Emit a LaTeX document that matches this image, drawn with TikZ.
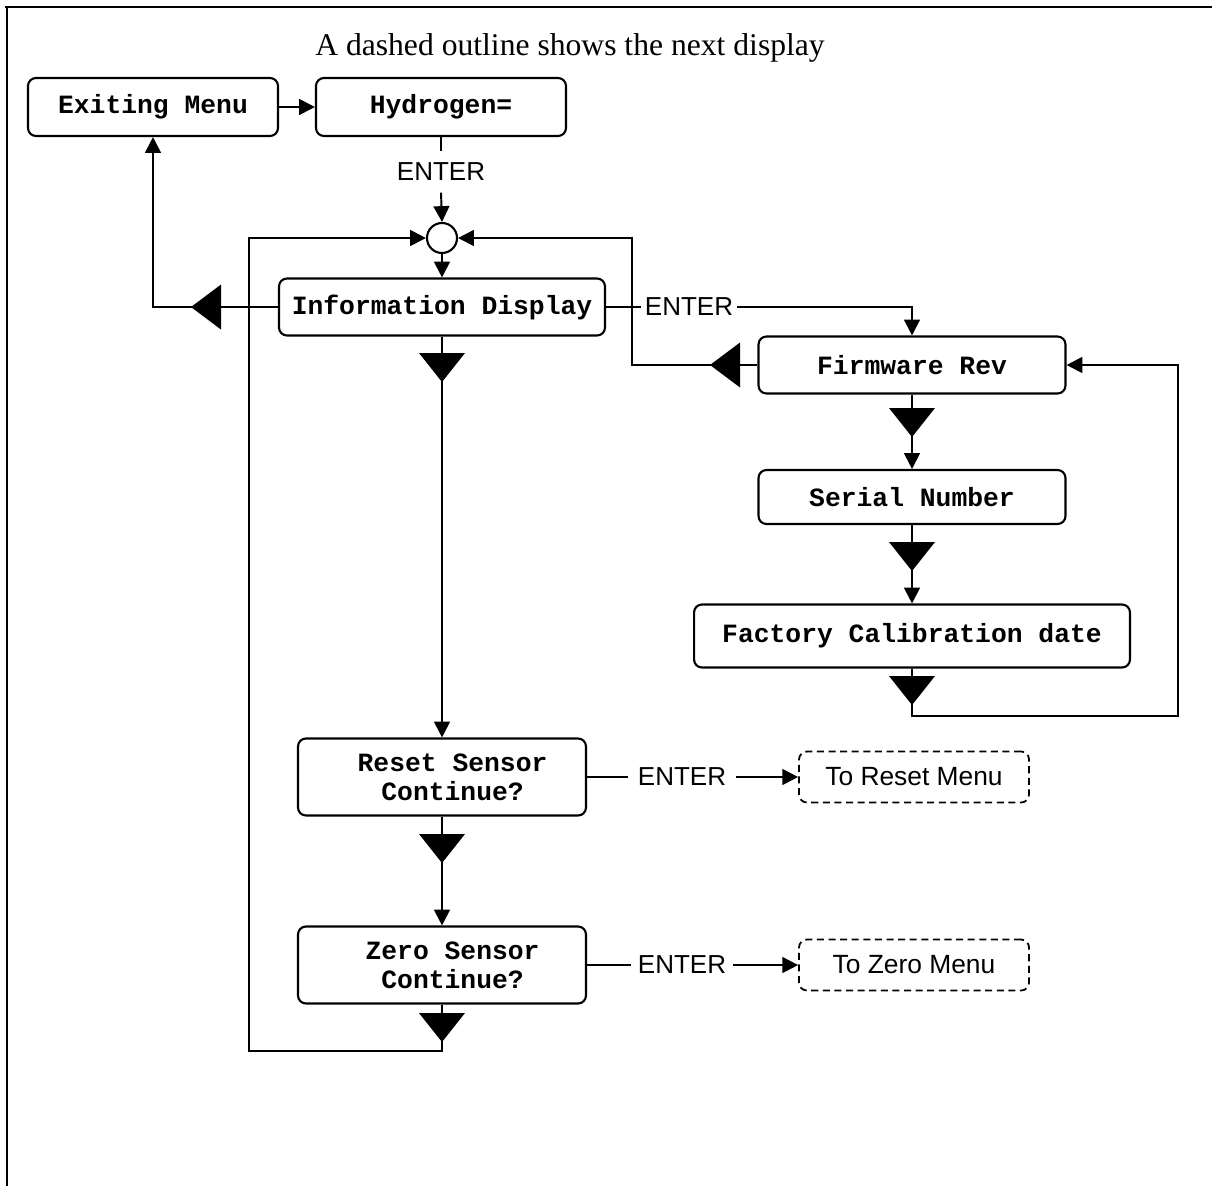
\documentclass[tikz,border=0pt]{standalone}
\usepackage{fontspec}
\setmainfont{Liberation Serif}
\setsansfont{Liberation Sans}
\setmonofont{Liberation Mono}
\usetikzlibrary{arrows.meta}
\definecolor{MenuInk}{HTML}{000000}
\newcommand{\TriDown}[1]{\fill[MenuInk] (#1) ++(-23,0) -- ++(46,0) -- ++(-23,29) -- cycle;}
\newcommand{\TriLeft}[1]{\fill[MenuInk] (#1) ++(0,-22.5) -- ++(0,45) -- ++(-30,-22.5) -- cycle;}
\tikzset{
  menubox/.style={draw=MenuInk,line width=1.2pt,rounded corners=4.5pt,align=center,
    inner sep=0pt,font=\fontsize{15}{16.5}\selectfont\ttfamily\bfseries},
  nextbox/.style={draw=MenuInk,line width=1pt,dash pattern=on 4pt off 2.6pt,rounded corners=4.5pt,
    minimum width=4.6cm,minimum height=1.02cm,font=\fontsize{15}{18}\selectfont\sffamily},
  keylbl/.style={inner sep=3pt,font=\fontsize{14.8}{18}\selectfont\sffamily},
  flow/.style={draw=MenuInk,line width=1.1pt},
  flowto/.style={flow,-{Triangle[length=9pt,width=9pt]}}
}
\begin{document}
\begin{tikzpicture}[x=0.02cm,y=-0.02cm]
  \useasboundingbox (0,0) rectangle (1212,1186);
  % page frame
  \draw[line width=1.6pt] (5,7) -- (1212,7);
  \draw[line width=1.2pt] (7,7) -- (7,1186);
  \node[font=\fontsize{18}{22}\selectfont] (title) at (570,48) {A dashed outline shows the next display};

  % displays
  \node[menubox,minimum width=5cm,minimum height=1.16cm] (exit) at (153,107) {Exiting Menu};
  \node[menubox,minimum width=5cm,minimum height=1.16cm] (hydro) at (441,107) {Hydrogen=};
  \node[draw=MenuInk,line width=1.2pt,circle,minimum size=0.6cm,inner sep=0pt] (junction) at (442,238) {};
  \node[menubox,minimum width=6.52cm,minimum height=1.14cm] (info) at (442,307) {Information Display};
  \node[menubox,minimum width=6.14cm,minimum height=1.14cm] (firm) at (912,365) {Firmware Rev};
  \node[menubox,minimum width=6.14cm,minimum height=1.08cm] (serial) at (912,497) {Serial Number};
  \node[menubox,minimum width=8.72cm,minimum height=1.26cm] (factory) at (912,636) {Factory Calibration date};
  \node[menubox,minimum width=5.76cm,minimum height=1.54cm] (reset) at (442,777) {\hspace*{12pt}Reset Sensor\\\hspace*{12pt}Continue?};
  \node[menubox,minimum width=5.76cm,minimum height=1.54cm] (zero) at (442,965) {\hspace*{12pt}Zero Sensor\\\hspace*{12pt}Continue?};
  \node[nextbox] (toreset) at (914,777) {To Reset Menu};
  \node[nextbox] (tozero) at (914,965) {To Zero Menu};

  % key labels
  \node[keylbl,inner sep=6.5pt] (enterA) at (441,172) {ENTER};
  \node[keylbl,inner sep=2pt] (enterB) at (689,307) {ENTER};
  \node[keylbl,inner sep=5.5pt] (enterC) at (682,777) {ENTER};
  \node[keylbl,inner sep=3.5pt] (enterD) at (682,965) {ENTER};
  \coordinate (rloop) at (632,238);
  \coordinate (floop) at (1178,716);
  \coordinate (lloop) at (249,1051);

  % connectors
  \draw[flowto] (exit) -- (hydro);
  \draw[flow] (hydro.south) -- (enterA.north);
  \draw[flowto] (enterA.south) -- (junction.north);
  \draw[flowto] (junction.south) -- (info.north);
  \draw[flowto] (info.west) -| (exit.south);
  \draw[flow] (info.east) -- (enterB.west);
  \draw[flowto] (enterB.east) -| (firm.north);
  \draw[flowto] (firm.west) -| (rloop) -- (junction.east);
  \draw[flowto] (firm) -- (serial);
  \draw[flowto] (serial) -- (factory);
  \draw[flowto] (factory.south) |- (floop) |- (firm.east);
  \draw[flowto] (info) -- (reset);
  \draw[flowto] (reset) -- (zero);
  \draw[flowto] (zero.south) |- (lloop) |- (junction.west);
  \draw[flow] (reset.east) -- (enterC.west);
  \draw[flowto] (enterC.east) -- (toreset.west);
  \draw[flow] (zero.east) -- (enterD.west);
  \draw[flowto] (enterD.east) -- (tozero.west);

  % scroll markers
  \TriLeft{221,307}
  \TriLeft{740,365}
  \TriDown{442,353}
  \TriDown{912,408}
  \TriDown{912,542}
  \TriDown{912,676}
  \TriDown{442,834}
  \TriDown{442,1013}
\end{tikzpicture}
\end{document}
